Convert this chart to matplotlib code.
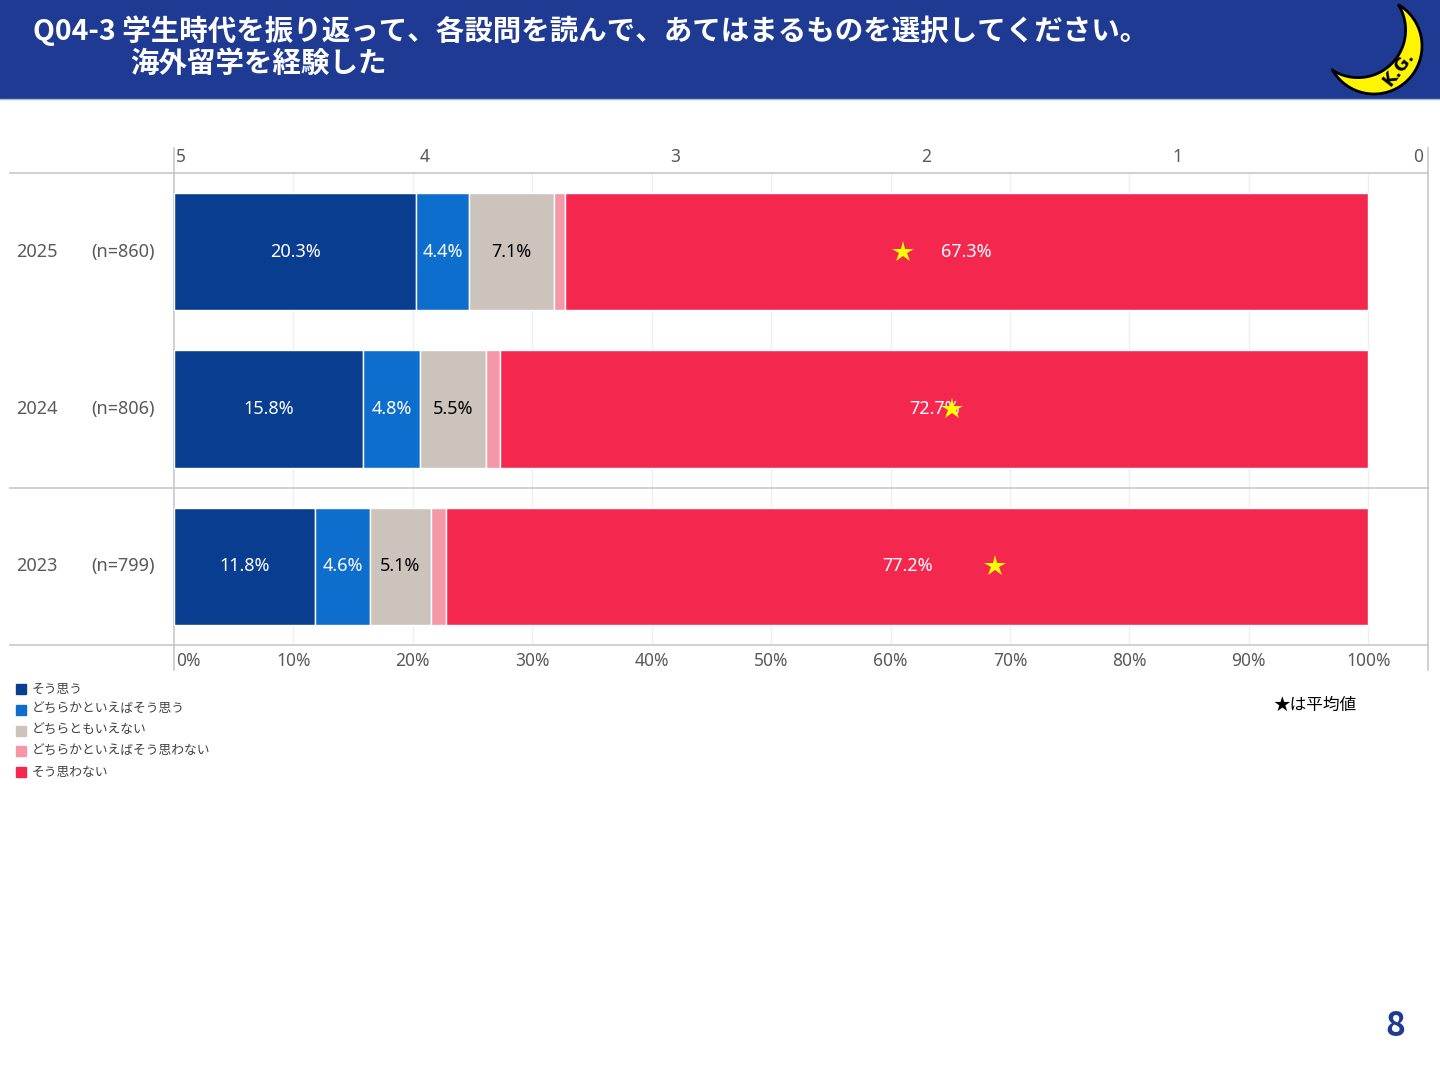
import numpy as np
import matplotlib
matplotlib.use("Agg")
import matplotlib.pyplot as plt
from matplotlib.patches import Rectangle, Polygon
from matplotlib.transforms import blended_transform_factory

plt.rcParams['font.family'] = ['Noto Sans', 'Noto Sans CJK JP', 'DejaVu Sans']
BOLD_FAMILY = ['Noto Sans CJK JP', 'DejaVu Sans']

# ---------------- data ----------------
years = ['2025', '2024', '2023']
ns = ['(n=860)', '(n=806)', '(n=799)']
legend_labels = ['そう思う', 'どちらかといえばそう思う', 'どちらともいえない',
                 'どちらかといえばそう思わない', 'そう思わない']
so_omou = [20.3, 15.8, 11.8]
dochiraka_omou = [4.4, 4.8, 4.6]
dochiratomo = [7.1, 5.5, 5.1]
dochiraka_omowanai = [0.9, 1.2, 1.3]
omowanai = [67.3, 72.7, 77.2]
score_weights = [5, 4, 3, 2, 1]
pct_ticks = [0, 10, 20, 30, 40, 50, 60, 70, 80, 90, 100]
score_ticks = [5, 4, 3, 2, 1, 0]

series = [so_omou, dochiraka_omou, dochiratomo, dochiraka_omowanai, omowanai]
colors = ['#083D8F', '#0E6ECE', '#CCC3BD', '#F497A7', '#F4284F']
text_colors = ['white', 'white', 'black', None, 'white']

XMAX = 105.0  # percent axis max; score axis 5 -> 0 spans 0 -> XMAX

fig = plt.figure(figsize=(14.4, 10.8), dpi=100)

# background / overlay axes in pixel coordinates
bg = fig.add_axes([0, 0, 1, 1])
bg.set_xlim(0, 1440)
bg.set_ylim(1080, 0)
bg.axis('off')

# header
bg.add_patch(Rectangle((0, 0), 1440, 98, color='#1F3A93', zorder=1))
bg.plot([0, 1440], [98.5, 98.5], color='#A3B9DA', lw=1, zorder=1)
bg.text(33, 31, 'Q04-3 学生時代を振り返って、各設問を読んで、あてはまるものを選択してください。',
        color='white', fontsize=20.5, fontweight='bold', va='center', ha='left',
        zorder=2, family=BOLD_FAMILY)
bg.text(130, 64, '海外留学を経験した', color='white', fontsize=20.5,
        fontweight='bold', va='center', ha='left', zorder=2, family=BOLD_FAMILY)

# moon logo
A = np.array([1374.0, 46.0]); RA = 48.0
B = np.array([1358.0, 30.0]); RB = 47.6
D = np.linalg.norm(A - B)
phi0 = np.arctan2(A[1] - B[1], A[0] - B[0])
alpha = np.arccos((D**2 + RA**2 - RB**2) / (2 * D * RA))
beta = np.arccos((D**2 + RB**2 - RA**2) / (2 * D * RB))
t1 = np.linspace(-(np.pi - alpha), np.pi - alpha, 120) + phi0
t2 = np.linspace(beta, -beta, 120) + phi0
outer = np.column_stack([A[0] + RA * np.cos(t1), A[1] + RA * np.sin(t1)])
inner = np.column_stack([B[0] + RB * np.cos(t2), B[1] + RB * np.sin(t2)])
bg.add_patch(Polygon(np.vstack([outer, inner]), closed=True, facecolor='#FFF500',
                     edgecolor='black', lw=2, zorder=3))
bg.text(1399, 68, 'K.G.', rotation=52, fontsize=12, fontweight='bold',
        color='black', ha='center', va='center', zorder=4, family=['DejaVu Sans'])

# page number
bg.text(1395, 1027, '8', fontsize=24, fontweight='bold', color='#1F3A93',
        ha='center', va='center', family=BOLD_FAMILY)

# ---------------- chart axes ----------------
ax = fig.add_axes([174 / 1440, 1 - 645 / 1080, 1254 / 1440, 472 / 1080])
ax.set_xlim(0, XMAX)
ax.set_ylim(2.5, -0.5)
ax.patch.set_alpha(0)
for s in ax.spines.values():
    s.set_visible(False)
ax.set_xticks([])
ax.set_yticks([])

ypos = np.arange(len(years))
bar_h = 0.745

# gridlines
ax.vlines(pct_ticks[1:], -0.5, 2.5, color='#EFEFEF', lw=1, zorder=0)

left = np.zeros(len(years))
for vals, c, tc in zip(series, colors, text_colors):
    vals = np.array(vals)
    ax.barh(ypos, vals, left=left, height=bar_h, color=c, edgecolor='white',
            linewidth=1, zorder=2)
    if tc is not None:
        for y, l, v in zip(ypos, left, vals):
            ax.text(l + v / 2, y, f'{v:.1f}%', color=tc, fontsize=13,
                    ha='center', va='center', zorder=3)
    left += vals

# mean stars
data = np.array(series)
means = (np.array(score_weights)[:, None] * data).sum(axis=0) / data.sum(axis=0)
star_x = (5 - means) * XMAX / 5
ax.plot(star_x, ypos, linestyle='none', marker='*', markersize=16,
        color='#FFFF00', markeredgewidth=0, zorder=4)

# frame lines
tr_ax_data = blended_transform_factory(ax.transAxes, ax.transData)
x_left = (10 - 174) / 1254
for yl in [-0.5, 1.5, 2.5]:
    ax.plot([x_left, 1], [yl, yl], color='#C8C8C8', lw=1.2, transform=tr_ax_data,
            clip_on=False, zorder=1)
y_lo = -25 / 472
y_hi = 1 + 25 / 472
for xl in [0, 1]:
    ax.plot([xl, xl], [y_lo, y_hi], color='#C8C8C8', lw=1.2, transform=ax.transAxes,
            clip_on=False, zorder=1)

# tick labels
tr_data_ax = blended_transform_factory(ax.transData, ax.transAxes)
for i, p in enumerate(pct_ticks):
    ha = 'left' if i == 0 else 'center'
    xx = p + 0.2 if i == 0 else p
    ax.text(xx, -16 / 472, f'{p}%', transform=tr_data_ax, ha=ha, va='center',
            fontsize=12.5, color='#595959')
for i, s in enumerate(score_ticks):
    xx = (5 - s) * XMAX / 5
    if i == 0:
        ha, xx = 'left', xx + 0.2
    elif i == len(score_ticks) - 1:
        ha, xx = 'right', xx - 0.4
    else:
        ha = 'center'
    ax.text(xx, 1 + 16 / 472, f'{s}', transform=tr_data_ax, ha=ha, va='center',
            fontsize=12.5, color='#595959')

# row labels
tr_bg_data = blended_transform_factory(bg.transData, ax.transData)
for y, yr, n in zip(ypos, years, ns):
    bg.text(16, y, yr, transform=tr_bg_data, ha='left', va='center',
            fontsize=13, color='#595959')
    bg.text(155, y, n, transform=tr_bg_data, ha='right', va='center',
            fontsize=13, color='#595959')

# legend
for i, (lab, c) in enumerate(zip(legend_labels, colors)):
    yy = 689 + i * 20.75
    bg.add_patch(Rectangle((16, yy - 5), 10, 10, color=c))
    bg.text(32, yy, lab, ha='left', va='center', fontsize=9.2, color='#404040')

bg.text(1315, 706, '★は平均値', ha='center', va='center', fontsize=12, color='black')

fig.savefig('out.png', dpi=100)
